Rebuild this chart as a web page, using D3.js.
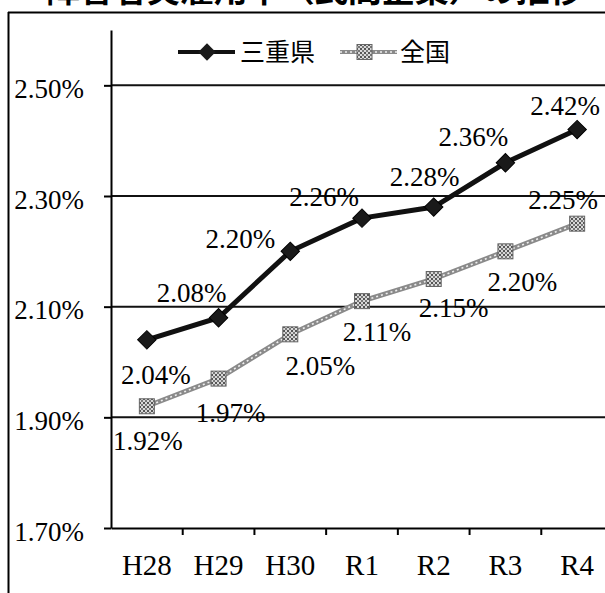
<!DOCTYPE html>
<html>
<head>
<meta charset="utf-8">
<script src="https://cdn.jsdelivr.net/npm/d3@7"></script>
<style>
  body { margin: 0; background: #fff; }
  svg { display: block; }
</style>
</head>
<body>
<div id="chart"></div>
<script>
const years = ["H28", "H29", "H30", "R1", "R2", "R3", "R4"];
const mie = [2.04, 2.08, 2.20, 2.26, 2.28, 2.36, 2.42];
const national = [1.92, 1.97, 2.05, 2.11, 2.15, 2.20, 2.25];
const yTicks = [1.70, 1.90, 2.10, 2.30, 2.50];
const seriesNames = ["三重県", "全国"];
const titleText = "障害者実雇用率（民間企業）の推移";

// where each value label sits relative to its point (px)
const mieLabelOffset = [[9, 35], [-27, -25], [-50, -12], [-38, -21], [-9, -30], [-32, -26], [-12, -24]];
const nationalLabelOffset = [[1, 35], [12, 34], [30, 32], [15, 31], [20, 29], [17, 31], [-14, -24]];

const W = 605, H = 593;
const margin = {top: 30, left: 111};
const plotW = 502, plotH = 498;
const serif = "'Liberation Serif', 'Times New Roman', serif";
const cjk = "'Noto Sans CJK JP', 'Noto Sans', sans-serif";

const svg = d3.select("#chart").append("svg")
    .attr("width", W)
    .attr("height", H);

// speckled fill for the national markers
const pat = svg.append("defs").append("pattern")
    .attr("id", "speck")
    .attr("width", 4).attr("height", 4)
    .attr("patternUnits", "userSpaceOnUse");
pat.append("rect").attr("width", 4).attr("height", 4).attr("fill", "#d8d8d8");
pat.append("rect").attr("width", 2).attr("height", 2).attr("fill", "#555");
pat.append("rect").attr("x", 2).attr("y", 2).attr("width", 2).attr("height", 2).attr("fill", "#777");

// title (cut off at the top edge, as in the scan) and outer frame
svg.append("text")
    .attr("x", 46).attr("y", 2)
    .attr("textLength", 537)
    .attr("lengthAdjust", "spacing")
    .style("font-family", cjk)
    .style("font-size", "34px")
    .style("font-weight", "bold")
    .text(titleText);

svg.append("line").attr("x1", 8).attr("x2", W).attr("y1", 12.5).attr("y2", 12.5)
    .attr("stroke", "#000").attr("stroke-width", 2);
svg.append("line").attr("x1", 8.5).attr("x2", 8.5).attr("y1", 12).attr("y2", H)
    .attr("stroke", "#000").attr("stroke-width", 2);

const g = svg.append("g").attr("transform", `translate(${margin.left},${margin.top})`);

const x = d3.scaleBand().domain(years).range([0, plotW]);
const y = d3.scaleLinear().domain([1.7, 2.6]).range([plotH, 0]);
const cx = d => x(d) + x.bandwidth() / 2;

// gridlines
g.append("g")
    .selectAll("line")
    .data(yTicks.slice(1))
    .join("line")
    .attr("x1", 0).attr("x2", plotW)
    .attr("y1", d => y(d)).attr("y2", d => y(d))
    .attr("stroke", "#111").attr("stroke-width", 2);

// y axis
const yAxis = g.append("g")
    .call(d3.axisLeft(y).tickValues(yTicks).tickSize(7).tickSizeOuter(0).tickFormat(d3.format(".2f")).tickPadding(20));
yAxis.select(".domain").attr("stroke-width", 2);
yAxis.selectAll(".tick line").attr("stroke-width", 2);
yAxis.selectAll(".tick text")
    .text(d => d.toFixed(2) + "%")
    .attr("dy", "0.45em")
    .style("font-family", serif)
    .style("font-size", "27px")
    .attr("fill", "#000");

// x axis
const xAxis = g.append("g")
    .attr("transform", `translate(0,${plotH})`)
    .call(d3.axisBottom(x).tickSize(0).tickSizeOuter(0).tickPadding(26));
xAxis.select(".domain").attr("stroke-width", 2);
xAxis.selectAll(".tick text")
    .style("font-family", serif)
    .style("font-size", "29px")
    .attr("fill", "#000");
xAxis.append("g")
    .selectAll("line")
    .data(years)
    .join("line")
    .attr("x1", d => x(d) + x.bandwidth()).attr("x2", d => x(d) + x.bandwidth())
    .attr("y1", 0).attr("y2", 7)
    .attr("stroke", "#000").attr("stroke-width", 2);

// national line
const line = d3.line().x((d, i) => cx(years[i])).y(d => y(d));
g.append("path").datum(national)
    .attr("d", line)
    .attr("fill", "none").attr("stroke", "#8a8a8a").attr("stroke-width", 5);
g.append("path").datum(national)
    .attr("d", line)
    .attr("fill", "none").attr("stroke", "#eee").attr("stroke-width", 1.6)
    .attr("stroke-dasharray", "2 3");
g.append("g")
    .selectAll("rect")
    .data(national)
    .join("rect")
    .attr("x", (d, i) => cx(years[i]) - 7.5)
    .attr("y", d => y(d) - 7.5)
    .attr("width", 15).attr("height", 15)
    .attr("fill", "url(#speck)")
    .attr("stroke", "#666").attr("stroke-width", 1);

// Mie line
g.append("path").datum(mie)
    .attr("d", line)
    .attr("fill", "none").attr("stroke", "#111").attr("stroke-width", 5);
const diamond = d3.symbol(d3.symbolSquare, 170);
g.append("g")
    .selectAll("path")
    .data(mie)
    .join("path")
    .attr("d", diamond)
    .attr("transform", (d, i) => `translate(${cx(years[i])},${y(d)}) rotate(45)`)
    .attr("fill", "#1a1a1a").attr("stroke", "#000").attr("stroke-width", 1);

// value labels
function drawLabels(values, offsets) {
    g.append("g")
        .selectAll("text")
        .data(values)
        .join("text")
        .attr("x", (d, i) => cx(years[i]) + offsets[i][0])
        .attr("y", (d, i) => y(d) + offsets[i][1])
        .attr("dy", "0.33em")
        .attr("text-anchor", "middle")
        .style("font-family", serif)
        .style("font-size", "27px")
        .text(d => d.toFixed(2) + "%");
}
drawLabels(mie, mieLabelOffset);
drawLabels(national, nationalLabelOffset);

// legend
const legend = svg.append("g").attr("transform", "translate(0,52)");
legend.append("line").attr("x1", 178).attr("x2", 235).attr("stroke", "#111").attr("stroke-width", 4);
legend.append("path").attr("d", d3.symbol(d3.symbolSquare, 150))
    .attr("transform", "translate(207,0) rotate(45)").attr("fill", "#1a1a1a");
legend.append("text").attr("x", 240).attr("y", 0).attr("dy", "0.36em")
    .style("font-family", cjk).style("font-size", "25px").text(seriesNames[0]);

legend.append("line").attr("x1", 340).attr("x2", 397).attr("stroke", "#8a8a8a").attr("stroke-width", 4);
legend.append("line").attr("x1", 340).attr("x2", 397).attr("stroke", "#eee").attr("stroke-width", 1.4)
    .attr("stroke-dasharray", "2 3");
legend.append("rect").attr("x", 357).attr("y", -7.5).attr("width", 15).attr("height", 15)
    .attr("fill", "url(#speck)").attr("stroke", "#666");
legend.append("text").attr("x", 400).attr("y", 0).attr("dy", "0.36em")
    .style("font-family", cjk).style("font-size", "25px").text(seriesNames[1]);
</script>
</body>
</html>
